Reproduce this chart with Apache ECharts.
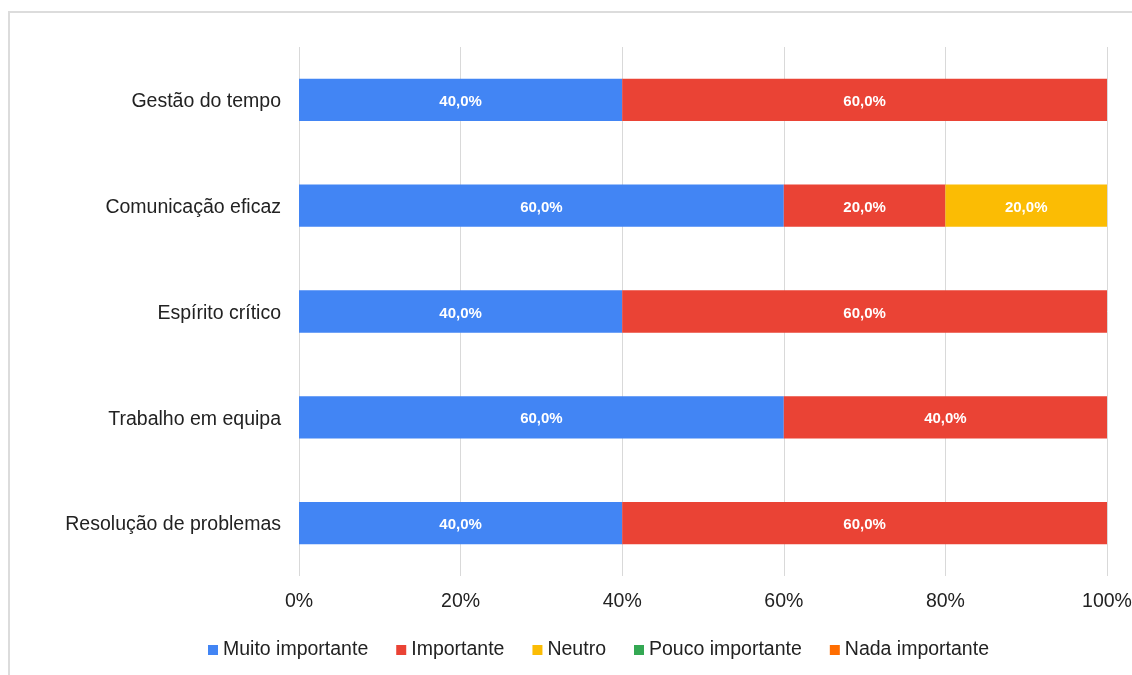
<!DOCTYPE html>
<html>
<head>
<meta charset="utf-8">
<script src="https://cdn.jsdelivr.net/npm/echarts@6/dist/echarts.min.js"></script>
<style>
html,body{margin:0;padding:0;background:#fff;}
#frame{position:absolute;left:8px;top:11px;width:1200px;height:700px;border-left:2px solid #dcdcdc;border-top:2px solid #dcdcdc;}
#chart{position:absolute;left:0;top:0;width:1132px;height:675px;}
</style>
</head>
<body>
<div id="frame"></div>
<div id="chart"></div>
<script>
const categories = ["Gestão do tempo","Comunicação eficaz","Espírito crítico","Trabalho em equipa","Resolução de problemas"];
const seriesNames = ["Muito importante","Importante","Neutro","Pouco importante","Nada importante"];
const muitoImportante = [40,60,40,60,40];
const importante = [60,20,60,40,60];
const neutro = [0,20,0,0,0];
const poucoImportante = [0,0,0,0,0];
const nadaImportante = [0,0,0,0,0];
const xTicks = [0,20,40,60,80,100];
const colors = ["#4285F4","#EA4335","#FBBC04","#34A853","#FF6D01"];

const values = [muitoImportante, importante, neutro, poucoImportante, nadaImportante];
const chart = echarts.init(document.getElementById('chart'));
const font = "'Liberation Sans', Arial, sans-serif";
chart.setOption({
  animation:false,
  color: colors,
  grid:{left:299,right:25,top:47,bottom:99,containLabel:false,outerBoundsMode:'none'},
  legend:{
    data: seriesNames, top:635, left:203, icon:'rect', itemWidth:10, itemHeight:10, itemGap:28,
    textStyle:{fontFamily:font,fontSize:19.5,color:'#222'}
  },
  xAxis:{
    type:'value', min:xTicks[0], max:xTicks[xTicks.length-1], interval:20,
    axisLine:{show:false}, axisTick:{show:false},
    splitLine:{lineStyle:{color:'#d9d9d9',width:1}},
    axisLabel:{formatter:'{value}%',fontFamily:font,fontSize:19.5,color:'#222',margin:16}
  },
  yAxis:{
    type:'category', data:categories, inverse:true,
    axisLine:{show:false}, axisTick:{show:false},
    axisLabel:{fontFamily:font,fontSize:19.5,color:'#222',margin:18,
      formatter:v=>'{a|'+v+'}',
      rich:{a:{fontFamily:font,fontSize:19.5,color:'#222',padding:[4,0,0,0]}}}
  },
  series: seriesNames.map((n,i)=>({
    name:n, type:'bar', stack:'total', data:values[i], barCategoryGap:'60%',
    label:{show:true,position:'inside',offset:[0,2],color:'#fff',fontWeight:'bold',fontFamily:font,fontSize:15,
      formatter:p=>p.value? p.value.toFixed(1).replace('.',',')+'%':''}
  }))
});
</script>
</body>
</html>
